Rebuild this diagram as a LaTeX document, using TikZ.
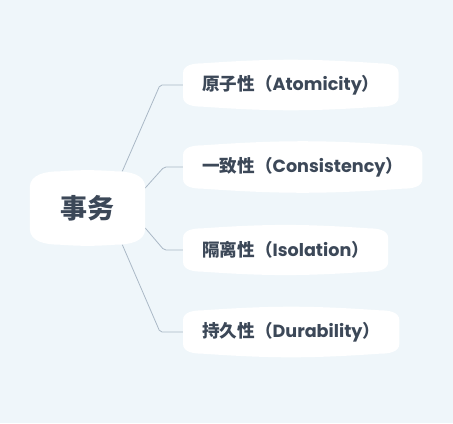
\documentclass[tikz,border=0pt]{standalone}
\usepackage{fontspec}
\setmainfont{Poppins}
\newfontfamily\cjk{Noto Sans CJK SC}
\usetikzlibrary{calc}

\definecolor{paper}{RGB}{239,246,250}
\definecolor{ink}{RGB}{60,72,88}
\definecolor{twig}{RGB}{170,184,198}

\pgfdeclarelayer{back}
\pgfdeclarelayer{lines}
\pgfdeclarelayer{boxes}
\pgfsetlayers{back,lines,boxes,main}

% white box with rounded corners and a slight bulge
\newcommand\bubble[3]{%
\fill[white] ([yshift=-#3]#1.north west) to[out=90,in=180] ([xshift=#2]#1.north west)
  to[bend left=4] ([xshift=-#2]#1.north east) to[out=0,in=90] ([yshift=-#3]#1.north east)
  -- ([yshift=#3]#1.south east) to[out=-90,in=0] ([xshift=-#2]#1.south east)
  to[bend left=4] ([xshift=#2]#1.south west) to[out=180,in=-90] ([yshift=#3]#1.south west)
  -- cycle;}

\tikzset{
  hub/.style={text=ink, font=\bfseries\fontsize{27bp}{30bp}\selectfont\cjk,
    minimum width=115bp, minimum height=73bp, inner sep=0pt},
  leaf/.style={text=ink, font=\bfseries\fontsize{17.6bp}{21bp}\selectfont,
    anchor=west, minimum height=43bp, inner xsep=19bp, inner ysep=0pt},
  branch/.style={draw=twig, line width=0.8bp, rounded corners=2bp}
}

\begin{document}
\begin{tikzpicture}[x=1bp,y=1bp]
\begin{pgfonlayer}{back}
\fill[paper] (0,0) rectangle (453,423);
\end{pgfonlayer}
\useasboundingbox (0,0) rectangle (453,423);

\node[hub] (acid) at (87.5,215) {事务};
\node[leaf] (atom) at (183,338) {{\cjk 原子性（}Atomicity{\cjk ）}};
\node[leaf] (cons) at (183,256) {{\cjk 一致性（}Consistency{\cjk ）}};
\node[leaf] (isol) at (183,173) {{\cjk 隔离性（}Isolation{\cjk ）}};
\node[leaf] (dura) at (183,91) {{\cjk 持久性（}Durability{\cjk ）}};

\begin{pgfonlayer}{lines}
\draw[branch] ([xshift=34.8bp]acid.north) -- ([xshift=-23bp]atom.west) -- (atom.west);
\draw[branch] ([yshift=20bp]acid.east) -- ([xshift=-19bp]cons.west) -- (cons.west);
\draw[branch] ([yshift=-20bp]acid.east) -- ([xshift=-19bp]isol.west) -- (isol.west);
\draw[branch] ([xshift=34.8bp]acid.south) -- ([xshift=-23bp]dura.west) -- (dura.west);
\end{pgfonlayer}

\begin{pgfonlayer}{boxes}
\bubble{acid}{30bp}{16bp}
\bubble{atom}{20bp}{10bp}
\bubble{cons}{20bp}{10bp}
\bubble{isol}{20bp}{10bp}
\bubble{dura}{20bp}{10bp}
\end{pgfonlayer}
\end{tikzpicture}
\end{document}
